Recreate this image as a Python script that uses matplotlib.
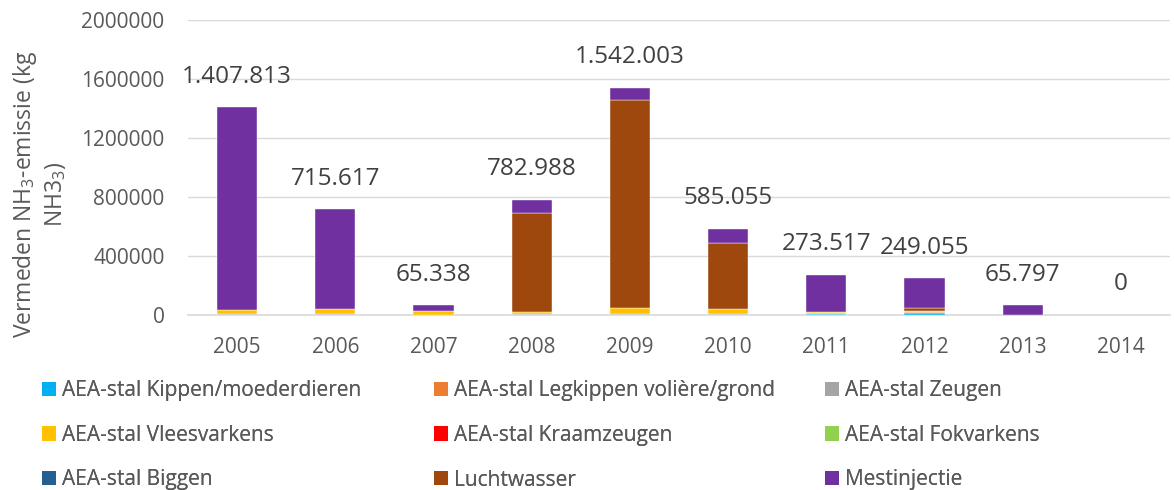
import matplotlib
matplotlib.use("Agg")
import matplotlib.pyplot as plt
import numpy as np
from matplotlib.patches import Patch

plt.rcParams['font.family'] = ['Open Sans', 'DejaVu Sans']
plt.rcParams['mathtext.fontset'] = 'custom'
plt.rcParams['mathtext.rm'] = 'Open Sans'
plt.rcParams['mathtext.it'] = 'Open Sans'

years = ['2005', '2006', '2007', '2008', '2009', '2010', '2011', '2012', '2013', '2014']
totals = [1407813, 715617, 65338, 782988, 1542003, 585055, 273517, 249055, 65797, 0]

series_names = ['AEA-stal Kippen/moederdieren', 'AEA-stal Legkippen volière/grond', 'AEA-stal Zeugen',
                'AEA-stal Vleesvarkens', 'AEA-stal Kraamzeugen', 'AEA-stal Fokvarkens',
                'AEA-stal Biggen', 'Luchtwasser', 'Mestinjectie']
kippen       = [0, 0, 0, 0, 0, 0, 6000, 12000, 0, 0]
legkippen    = [0, 0, 0, 0, 0, 0, 0, 5000, 0, 0]
zeugen       = [5000, 4000, 3000, 8000, 10000, 5000, 5000, 4000, 0, 0]
vleesvarkens = [28000, 36000, 25000, 15000, 35000, 38000, 10000, 6000, 0, 0]
kraamzeugen  = [0, 0, 0, 0, 0, 0, 0, 0, 0, 0]
fokvarkens   = [0, 0, 0, 0, 0, 0, 0, 0, 0, 0]
biggen       = [0, 0, 0, 0, 0, 0, 0, 0, 0, 0]
luchtwasser  = [0, 0, 0, 670000, 1414000, 442000, 0, 20000, 0, 0]
mestinjectie = [1374813, 675617, 37338, 89988, 83003, 100055, 252517, 202055, 65797, 0]

colors = ['#00B0F0', '#ED7D31', '#A5A5A5', '#FFC000', '#FF0000', '#92D050',
          '#255E91', '#9E480E', '#7030A0']
series = [kippen, legkippen, zeugen, vleesvarkens, kraamzeugen, fokvarkens,
          biggen, luchtwasser, mestinjectie]

W, H = 1174, 490
fig = plt.figure(figsize=(W / 100, H / 100), dpi=100)
ax = fig.add_axes([188 / W, (H - 315) / H, (1170 - 188) / W, (315 - 20) / H])

x = np.arange(len(years))
bottom = np.zeros(len(years))
for vals, col in zip(series, colors):
    v = np.array(vals, dtype=float)
    ax.bar(x, v, width=0.41, bottom=bottom, color=col,
           edgecolor=['white' if vi > 0 else 'none' for vi in v], linewidth=0.3, zorder=3)
    bottom += v

for xi, t in zip(x, totals):
    lab = f"{t:,}".replace(',', '.')
    ax.annotate(lab, (xi, t), xytext=(0, 22), textcoords='offset points',
                ha='center', va='center', fontsize=17.5, color='#404040')

ax.set_ylim(0, 2000000)
ax.set_xlim(-0.5, len(years) - 0.5)
ax.set_yticks([0, 400000, 800000, 1200000, 1600000, 2000000])
ax.set_yticklabels(['0', '400000', '800000', '1200000', '1600000', '2000000'])
ax.set_xticks(x)
ax.set_xticklabels(years)
ax.tick_params(axis='both', length=0, labelsize=15, colors='#595959')
ax.tick_params(axis='y', pad=17)
ax.tick_params(axis='x', pad=16)
ax.grid(axis='y', color='#D9D9D9', linewidth=1, zorder=0)
for s in ['left', 'right', 'top']:
    ax.spines[s].set_visible(False)
ax.spines['bottom'].set_color('#D9D9D9')
ax.spines['bottom'].set_linewidth(1.2)

ax.set_ylabel('Vermeden NH$_3$-emissie (kg\nNH3$_3$)', fontsize=16.5, color='#595959',
              multialignment='center')
ax.yaxis.set_label_coords(-0.122, 0.41)

col_x = [42, 434, 825]
for c in range(3):
    idx = [c, c + 3, c + 6]
    handles = [Patch(facecolor=colors[i], edgecolor='none') for i in idx]
    labels = [series_names[i] for i in idx]
    leg = fig.legend(handles, labels, loc='upper left',
                     bbox_to_anchor=(col_x[c] / W, 1 - 380 / H),
                     frameon=False, fontsize=15, handlelength=0.65, handleheight=0.68,
                     handletextpad=0.3, labelspacing=1.14, borderaxespad=0, borderpad=0,
                     labelcolor='#595959')
    fig.add_artist(leg)

fig.savefig('out.png', dpi=100)
